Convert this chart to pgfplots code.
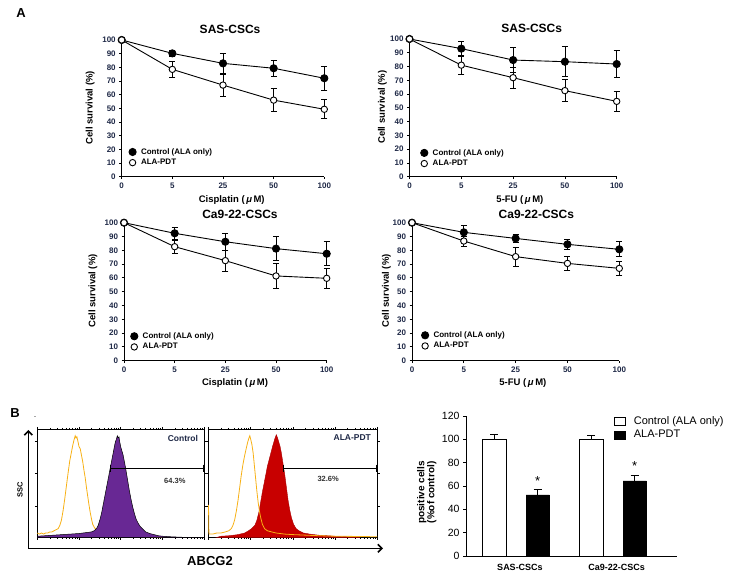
\documentclass[border=0pt]{standalone}
\usepackage{pgfplots}
\pgfplotsset{compat=1.18}
\usepackage{fontspec}
\setmainfont{Liberation Sans}
\setsansfont{Liberation Sans}
\usetikzlibrary{arrows.meta}

\definecolor{hyel}{RGB}{247,176,20}
\definecolor{hpur}{RGB}{104,40,148}
\definecolor{hred}{RGB}{200,0,0}
\definecolor{txtnavy}{RGB}{30,40,70}

\pgfplotsset{
  surv/.style={
    scale only axis, anchor=south west, clip=false,
    xmin=0, xmax=4, ymin=0, ymax=101,
    axis x line*=bottom, axis y line*=left,
    axis line style={line width=0.9pt,-},
    xtick={0,1,2,3,4}, xticklabels={0,5,25,50,100},
    ytick={0,10,...,100},
    tick align=outside, major tick length=2.5pt,
    tick style={line width=0.8pt,black},
    ticklabel style={font=\bfseries\fontsize{8}{9}\selectfont, text=txtnavy},
    /pgf/number format/assume math mode=true,
    title style={font=\bfseries\fontsize{12}{13}\selectfont, anchor=base, yshift=-1pt},
    label style={font=\bfseries\fontsize{9.5}{11}\selectfont},
    ylabel={Cell survival (\%)},
    legend style={draw=none, fill=none, anchor=north west, inner sep=0pt, row sep=1.5pt,
      font=\bfseries\fontsize{8}{9}\selectfont, nodes={inner sep=1pt}},
    legend cell align=left,
    legend image code/.code={\draw[#1] plot coordinates {(0pt,0pt)}; \path (7pt,0pt);},
  },
  ctrl/.style={black, line width=0.9pt, mark=*, mark size=3.6pt, mark options={solid,fill=black},
    error bars/y dir=both, error bars/y explicit,
    error bars/error bar style={line width=0.8pt,black},
    error bars/error mark options={rotate=90,mark size=3pt,line width=0.8pt,black}},
  pdt/.style={black, line width=0.9pt, mark=*, mark size=3.2pt, mark options={solid,fill=white},
    error bars/y dir=both, error bars/y explicit,
    error bars/error bar style={line width=0.8pt,black},
    error bars/error mark options={rotate=90,mark size=3pt,line width=0.8pt,black}},
  hist/.style={
    scale only axis, anchor=south west, clip=false, height=108pt,
    xmin=0, xmax=4, ymin=0, ymax=100,
    xtick={0,1,2,3,4}, xticklabels={},
    minor xtick={0.301,0.477,0.602,0.699,0.778,0.845,0.903,0.954,
      1.301,1.477,1.602,1.699,1.778,1.845,1.903,1.954,
      2.301,2.477,2.602,2.699,2.778,2.845,2.903,2.954,
      3.301,3.477,3.602,3.699,3.778,3.845,3.903,3.954},
    ytick={29,59,89}, yticklabels={},
    tick align=outside, major tick length=2.5pt, minor tick length=1.5pt,
    tick style={black,line width=0.5pt},
    axis line style={line width=0.6pt},
  },
}

\begin{document}
\begin{tikzpicture}
\path[use as bounding box] (0pt,0pt) rectangle (732pt,-572pt);

\node[font=\bfseries\fontsize{13}{15}\selectfont] at (21pt,-13pt) {A};
\node[font=\bfseries\fontsize{13}{15}\selectfont] at (15pt,-413pt) {B};
\node[font=\fontsize{6}{7}\selectfont] at (35pt,-418pt) {-};

% ---- SAS, cisplatin
\begin{axis}[surv, at={(121.7pt,-176.7pt)}, width=202.6pt, height=138.1pt,
  title={SAS-CSCs}, title style={at={(axis description cs:0.535,1)}},
  xlabel={Cisplatin (\,\textit{μ}\,M)},
  xlabel style={at={(axis description cs:0.543,0)}, anchor=center, yshift=-23pt},
  ylabel style={at={(axis description cs:0,0.5)}, anchor=center, yshift=31.5pt},
  legend style={at={(axis description cs:0.035,0.214)}}]
\addplot[ctrl] coordinates {(0,100) +- (0,0) (1,90.2) +- (0,2.5) (2,82.9) +- (0,7) (3,79.3) +- (0,6) (4,72) +- (0,9)};
\addplot[pdt] coordinates {(0,100) +- (0,0) (1,78.5) +- (0,6) (2,67) +- (0,8) (3,56) +- (0,8.5) (4,49.3) +- (0,7)};
\legend{Control (ALA only),ALA-PDT}
\end{axis}

% ---- SAS, 5-FU
\begin{axis}[surv, at={(409.5pt,-176.7pt)}, width=207.2pt, height=139.1pt,
  title={SAS-CSCs}, title style={at={(axis description cs:0.59,1)}},
  xlabel={5-FU (\,\textit{μ}\,M)},
  xlabel style={at={(axis description cs:0.533,0)}, anchor=center, yshift=-23pt},
  ylabel style={at={(axis description cs:0,0.5)}, anchor=center, yshift=27pt},
  legend style={at={(axis description cs:0.053,0.206)}}]
\addplot[ctrl] coordinates {(0,100) +- (0,0) (1,93) +- (0,5) (2,84.7) +- (0,9) (3,83.5) +- (0,11) (4,81.8) +- (0,10)};
\addplot[pdt] coordinates {(0,100) +- (0,0) (1,81) +- (0,6.5) (2,71.9) +- (0,7.5) (3,62.5) +- (0,8) (4,54.7) +- (0,7.5)};
\legend{Control (ALA only),ALA-PDT}
\end{axis}

% ---- Ca9-22, cisplatin
\begin{axis}[surv, at={(124pt,-360.7pt)}, width=202.7pt, height=139.4pt,
  title={Ca9-22-CSCs}, title style={at={(axis description cs:0.572,1)}, yshift=-2pt},
  xlabel={Cisplatin (\,\textit{μ}\,M)},
  xlabel style={at={(axis description cs:0.548,0)}, anchor=center, yshift=-22pt},
  ylabel style={at={(axis description cs:0,0.5)}, anchor=center, yshift=31pt},
  legend style={at={(axis description cs:0.032,0.21)}}]
\addplot[ctrl] coordinates {(0,100) +- (0,0) (1,92.3) +- (0,4.5) (2,86.2) +- (0,6) (3,81.2) +- (0,8.7) (4,77.5) +- (0,8.8)};
\addplot[pdt] coordinates {(0,100) +- (0,0) (1,82.6) +- (0,4.5) (2,72.5) +- (0,7.5) (3,61.4) +- (0,9) (4,59.7) +- (0,7)};
\legend{Control (ALA only),ALA-PDT}
\end{axis}

% ---- Ca9-22, 5-FU
\begin{axis}[surv, at={(412pt,-360.7pt)}, width=207.3pt, height=139.4pt,
  title={Ca9-22-CSCs}, title style={at={(axis description cs:0.6,1)}, yshift=-2pt},
  xlabel={5-FU (\,\textit{μ}\,M)},
  xlabel style={at={(axis description cs:0.535,0)}, anchor=center, yshift=-22pt},
  ylabel style={at={(axis description cs:0,0.5)}, anchor=center, yshift=25.5pt},
  legend style={at={(axis description cs:0.045,0.217)}}]
\addplot[ctrl] coordinates {(0,100) +- (0,0) (1,93) +- (0,5) (2,88.6) +- (0,2.7) (3,84.3) +- (0,3.8) (4,80.7) +- (0,5.4)};
\addplot[pdt] coordinates {(0,100) +- (0,0) (1,86.7) +- (0,3.6) (2,75.4) +- (0,6.8) (3,70.5) +- (0,5.4) (4,66.9) +- (0,4.8)};
\legend{Control (ALA only),ALA-PDT}
\end{axis}

% ---- flow cytometry, control
\begin{axis}[hist, at={(37.3pt,-537.3pt)}, width=166.7pt]
\addplot[draw=hyel, line width=0.8pt, no marks] coordinates {
(0.00,4) (0.05,3) (0.10,4) (0.15,3) (0.20,4) (0.25,4) (0.30,5) (0.35,5) (0.40,6) (0.45,7)
(0.50,8) (0.54,11) (0.58,16) (0.62,25) (0.66,36) (0.70,48) (0.74,60) (0.78,71) (0.82,79)
(0.85,85) (0.88,90) (0.91,94) (0.93,92) (0.95,93) (0.98,88) (1.00,84) (1.03,82) (1.06,76)
(1.09,70) (1.12,62) (1.15,55) (1.18,46) (1.21,38) (1.24,30) (1.27,23) (1.30,17) (1.33,12)
(1.37,9) (1.42,7) (1.50,5) (1.60,4) (1.75,3) (2.00,2) (2.30,1) (2.70,0.5) (3.00,0)};
\addplot[fill=hpur, draw=black, line width=0.5pt, no marks] coordinates {
(0.00,1) (0.20,1.5) (0.40,2) (0.60,2.5) (0.80,3) (1.00,3.5) (1.10,4) (1.20,4.5) (1.30,5)
(1.36,6) (1.42,8) (1.46,11) (1.50,16) (1.54,22) (1.58,30) (1.62,38) (1.66,46) (1.70,54)
(1.74,62) (1.77,68) (1.80,74) (1.83,80) (1.86,86) (1.88,89) (1.90,91) (1.92,94) (1.94,92)
(1.96,93) (1.98,88) (2.00,84) (2.03,80) (2.06,76) (2.09,70) (2.12,64) (2.15,57) (2.18,50)
(2.21,43) (2.25,35) (2.29,28) (2.33,22) (2.37,17) (2.42,13) (2.47,10) (2.52,8) (2.60,5)
(2.70,3.5) (2.80,2.5) (2.90,1.5) (3.00,1) (3.20,0.5) (3.50,0) (4.00,0)} \closedcycle;
\draw[line width=1.2pt, {Bar[width=7pt]}-{Bar[width=7pt]}] (axis cs:1.745,64) -- (axis cs:4,64);
\node[font=\bfseries\fontsize{7.5}{9}\selectfont, text=black!80] at (axis cs:3.3,52) {64.3\%};
\node[anchor=north east, font=\bfseries\fontsize{8.5}{10}\selectfont, text=txtnavy] at (axis description cs:0.985,0.98) {Control};
\end{axis}

% ---- flow cytometry, ALA-PDT
\begin{axis}[hist, at={(208.5pt,-537.3pt)}, width=168.5pt]
\addplot[fill=hred, draw=hred!85!black, line width=0.4pt, no marks] coordinates {
(0.20,0) (0.30,1) (0.50,1.5) (0.70,2.5) (0.86,4) (0.95,6) (1.02,8) (1.10,11) (1.15,16)
(1.20,24) (1.24,33) (1.28,42) (1.32,50) (1.36,58) (1.40,66) (1.44,72) (1.48,78) (1.52,84)
(1.55,88) (1.58,92) (1.61,95) (1.64,92) (1.67,88) (1.70,84) (1.73,78) (1.77,68) (1.81,58)
(1.85,46) (1.89,34) (1.93,25) (1.97,18) (2.02,12) (2.08,8) (2.15,6) (2.25,4) (2.40,3)
(2.60,2) (2.80,1.5) (3.00,1) (3.30,0.5) (3.60,0)} \closedcycle;
\addplot[draw=hyel, line width=0.8pt, no marks] coordinates {
(0.00,30) (0.01,3) (0.10,3) (0.20,4) (0.30,4) (0.40,5) (0.48,6) (0.54,8) (0.58,11) (0.62,16)
(0.66,24) (0.70,34) (0.74,46) (0.78,58) (0.82,68) (0.86,76) (0.90,83) (0.93,88) (0.96,92)
(0.98,94) (1.00,91) (1.03,86) (1.06,78) (1.09,66) (1.12,54) (1.15,42) (1.18,32) (1.21,24)
(1.24,18) (1.28,12) (1.33,8) (1.40,6) (1.50,5) (1.60,4) (1.80,3) (2.00,2.5) (2.30,2)
(2.60,1.5) (3.00,1) (3.50,0.8) (4.00,0.5)};
\draw[line width=1.2pt, {Bar[width=7pt]}-{Bar[width=7pt]}] (axis cs:1.758,64) -- (axis cs:4,64);
\node[font=\bfseries\fontsize{7.5}{9}\selectfont, text=black!80] at (axis cs:2.84,53.7) {32.6\%};
\node[anchor=north east, font=\bfseries\fontsize{8.5}{10}\selectfont, text=txtnavy] at (axis description cs:0.985,0.98) {ALA-PDT};
\end{axis}

\draw[line width=1.6pt, -{Straight Barb[length=4pt,width=8pt]}] (28.3pt,-548.3pt) -- (28.3pt,-430pt);
\draw[line width=1.6pt, -{Straight Barb[length=4pt,width=8pt]}] (28.3pt,-548.3pt) -- (383pt,-548.3pt);
\node[rotate=90, font=\bfseries\fontsize{7.5}{9}\selectfont] at (20pt,-490pt) {SSC};
\node[font=\bfseries\fontsize{13}{15}\selectfont] at (210pt,-561pt) {ABCG2};

% ---- ABCG2-positive cells
\begin{axis}[scale only axis, anchor=south west, at={(466pt,-556pt)}, width=210.7pt, height=140pt,
  clip=false, xmin=0, xmax=210.7, ymin=0, ymax=120, ytick={0,20,...,120},
  axis x line*=bottom, axis y line*=left, axis line style={line width=0.8pt,-},
  xtick={54,150.7}, xticklabels={SAS-CSCs,Ca9-22-CSCs},
  x tick style={draw=none},
  y tick style={line width=0.8pt,black},
  tick align=outside, major tick length=3pt,
  xticklabel style={font=\bfseries\fontsize{9}{10}\selectfont, yshift=-2pt},
  yticklabel style={font=\fontsize{10.5}{12}\selectfont},
  /pgf/number format/assume math mode=true,
  ylabel={positive cells\\(\%of control)},
  ylabel style={align=center, font=\bfseries\fontsize{10}{10}\selectfont,
    at={(axis description cs:0,0.454)}, anchor=center, yshift=39.3pt},
  legend style={draw=none, fill=none, anchor=north west, inner sep=0pt, row sep=2pt,
    at={(axis description cs:0.702,1.002)}, font=\fontsize{11}{12}\selectfont,
    nodes={inner sep=1pt}},
  legend cell align=left,
  legend image code/.code={\draw[#1] (0pt,-4pt) rectangle (11pt,4pt); \path (18pt,0pt);}]
\addlegendimage{draw=black, fill=white, line width=0.7pt}
\addlegendimage{draw=black, fill=black, line width=0.7pt}
\addplot[ybar, bar shift=0pt, bar width=23.3, fill=white, draw=black, line width=0.8pt, forget plot,
  error bars/.cd, y dir=plus, y explicit, error bar style={line width=0.8pt},
  error mark options={rotate=90, mark size=4pt, line width=0.8pt}]
  coordinates {(28.3,100) +- (0,4.3) (125.3,100) +- (0,3.5)};
\addplot[ybar, bar shift=0pt, bar width=23.3, fill=black, draw=black, line width=0.8pt, forget plot,
  error bars/.cd, y dir=plus, y explicit, error bar style={line width=0.8pt},
  error mark options={rotate=90, mark size=4pt, line width=0.8pt}]
  coordinates {(71.7,52.3) +- (0,5) (168.7,64.3) +- (0,5)};
\node[font=\fontsize{13}{14}\selectfont] at (axis cs:71.7,64) {*};
\node[font=\fontsize{13}{14}\selectfont] at (axis cs:168.7,77) {*};
\legend{Control (ALA only),ALA-PDT}
\end{axis}
\end{tikzpicture}
\end{document}
